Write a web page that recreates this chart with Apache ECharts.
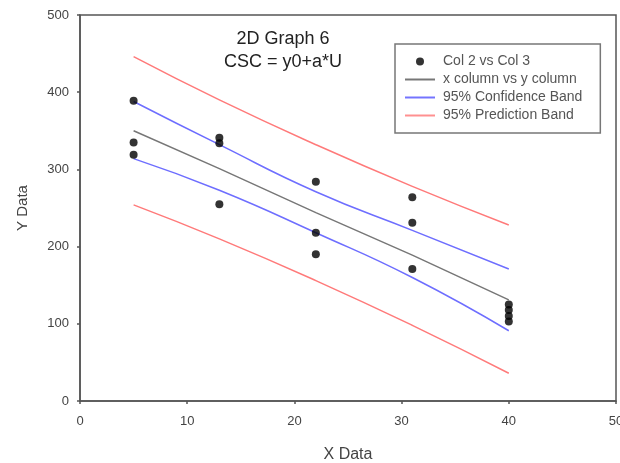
<!DOCTYPE html>
<html>
<head>
<meta charset="utf-8">
<script src="https://cdn.jsdelivr.net/npm/echarts@6/dist/echarts.min.js"></script>
<style>html,body{margin:0;padding:0;background:#fff}#c{width:620px;height:463px}</style>
</head>
<body>
<div id="c"></div>
<script>
// Scatter data (Col 2 vs Col 3)
const pointX = [5, 5, 5, 13, 13, 13, 22, 22, 22, 31, 31, 31, 40, 40, 40, 40];
const pointY = [389, 335, 319, 341, 334, 255, 284, 218, 190, 264, 231, 171, 125, 118, 110, 103];

// Fitted line and bands, sampled at these x values
const bandX = [5, 13, 22, 31, 40];
const fitY = [350, 301, 244, 189, 131];
const confUpper = [388, 332, 271, 221, 171];
const confLower = [314, 273, 218, 160, 91];
const predUpper = [446, 390, 332, 278, 228];
const predLower = [254, 210, 156, 98, 36];

const xTicks = [0, 10, 20, 30, 40, 50];
const yTicks = [0, 100, 200, 300, 400, 500];

const titleLines = ['2D Graph 6', 'CSC = y0+a*U'];
const legendNames = ['Col 2 vs Col 3', 'x column vs y column', '95% Confidence Band', '95% Prediction Band'];

const pairs = (xs, ys) => xs.map((x, i) => [x, ys[i]]);
const FONT = 'Liberation Sans, Arial, sans-serif';
const LINE_ICON = 'path://M0,0 M30,8 M0,3 L30,3 L30,5 L0,5 Z';

const chart = echarts.init(document.getElementById('c'), null, {renderer: 'canvas'});
const axisLine = {show: true, lineStyle: {color: '#555', width: 1.5}};
chart.setOption({
  animation: false,
  backgroundColor: '#fff',
  textStyle: {fontFamily: FONT},
  title: {
    text: titleLines.join('\n'),
    left: 283, top: 28, textAlign: 'center', padding: 0,
    textStyle: {fontFamily: FONT, fontSize: 18, fontWeight: 'normal', color: '#222', lineHeight: 23}
  },
  legend: {
    left: 395, top: 44, orient: 'vertical',
    data: [
      {name: legendNames[0], icon: 'circle', itemStyle: {color: '#000'}},
      {name: legendNames[1], icon: LINE_ICON, itemStyle: {color: '#777'}},
      {name: legendNames[2], icon: LINE_ICON, itemStyle: {color: '#7474ff'}},
      {name: legendNames[3], icon: LINE_ICON, itemStyle: {color: '#ff9090'}}
    ],
    itemWidth: 30, itemHeight: 8, itemGap: 3,
    padding: [10, 18, 10, 10],
    borderColor: '#777', borderWidth: 1.5,
    textStyle: {fontFamily: FONT, fontSize: 14, color: '#555', lineHeight: 15, padding: [0, 0, 0, 3]}
  },
  grid: {left: 80, right: 4, top: 15, bottom: 62, outerBoundsMode: 'none', containLabel: false,
         show: true, borderColor: '#555', borderWidth: 1.5, backgroundColor: 'transparent'},
  xAxis: {
    type: 'value', min: xTicks[0], max: xTicks[xTicks.length - 1], interval: 10,
    name: 'X Data', nameLocation: 'middle', nameGap: 46,
    nameTextStyle: {fontFamily: FONT, fontSize: 16, color: '#444'},
    axisLine: axisLine,
    axisTick: {show: true, length: 3, lineStyle: {color: '#555', width: 1.5}},
    axisLabel: {fontFamily: FONT, fontSize: 13, color: '#444', margin: 14},
    splitLine: {show: false}
  },
  yAxis: {
    type: 'value', min: yTicks[0], max: yTicks[yTicks.length - 1], interval: 100,
    name: 'Y Data', nameLocation: 'middle', nameGap: 50,
    nameTextStyle: {fontFamily: FONT, fontSize: 15, color: '#444'},
    axisLine: axisLine,
    axisTick: {show: true, length: 3, lineStyle: {color: '#555', width: 1.5}},
    axisLabel: {fontFamily: FONT, fontSize: 13, color: '#444', margin: 11},
    splitLine: {show: false}
  },
  series: [
    {name: legendNames[3], type: 'line', symbol: 'none', smooth: true, data: pairs(bandX, predUpper),
     lineStyle: {color: '#ff7a7a', width: 1.5}, itemStyle: {color: '#ff7a7a'}, z: 2},
    {name: legendNames[3], type: 'line', symbol: 'none', smooth: true, data: pairs(bandX, predLower),
     lineStyle: {color: '#ff7a7a', width: 1.5}, itemStyle: {color: '#ff7a7a'}, z: 2},
    {name: legendNames[2], type: 'line', symbol: 'none', smooth: true, data: pairs(bandX, confUpper),
     lineStyle: {color: '#6e6eff', width: 1.5}, itemStyle: {color: '#6e6eff'}, z: 2},
    {name: legendNames[2], type: 'line', symbol: 'none', smooth: true, data: pairs(bandX, confLower),
     lineStyle: {color: '#6e6eff', width: 1.5}, itemStyle: {color: '#6e6eff'}, z: 2},
    {name: legendNames[1], type: 'line', symbol: 'none', data: pairs(bandX, fitY),
     lineStyle: {color: '#777', width: 1.5}, itemStyle: {color: '#777'}, z: 3},
    {name: legendNames[0], type: 'scatter', symbol: 'circle', symbolSize: 8, data: pairs(pointX, pointY),
     itemStyle: {color: '#000'}, z: 5}
  ]
});
</script>
</body>
</html>
